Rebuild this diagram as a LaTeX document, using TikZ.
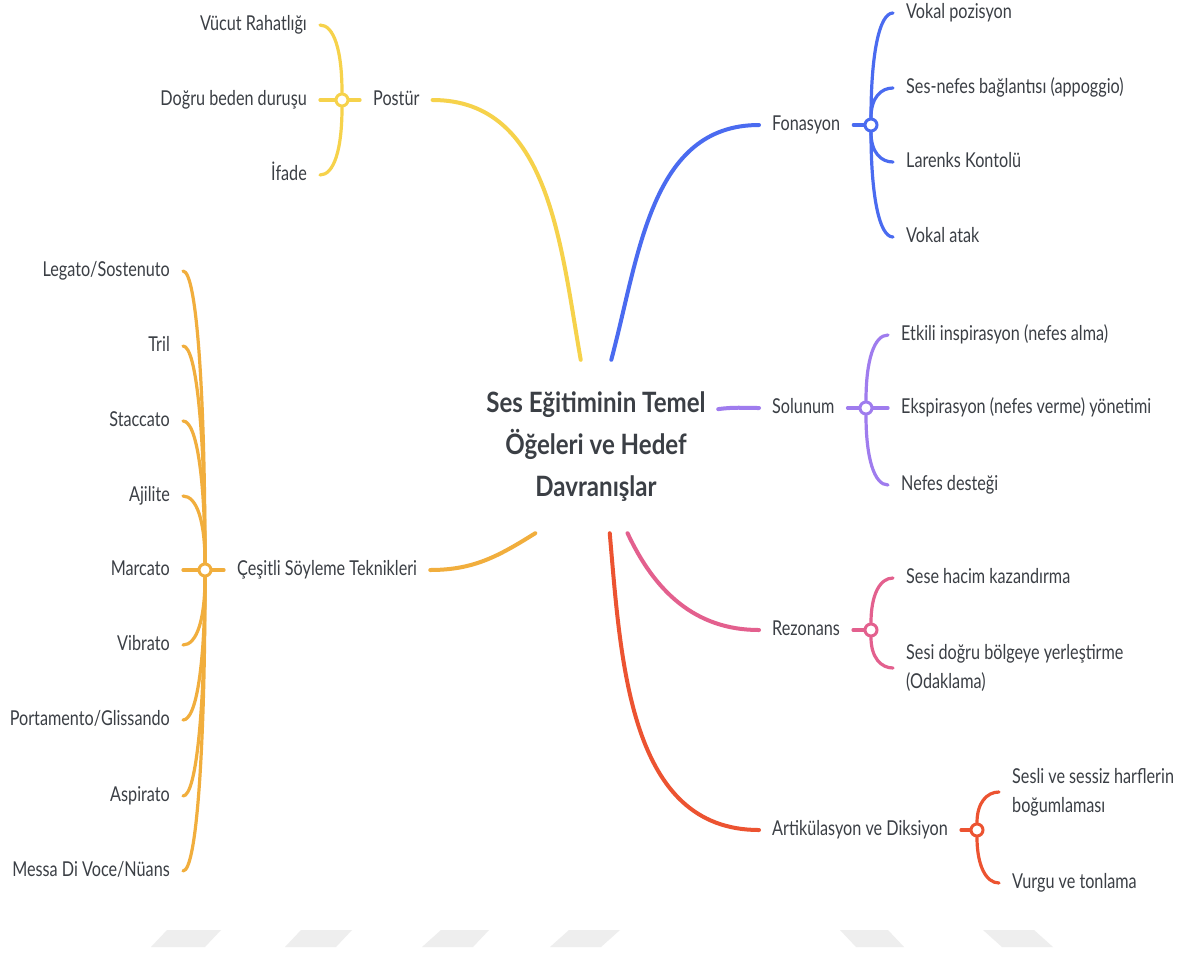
\documentclass[tikz,border=0pt]{standalone}
\usepackage{fontspec}
\setmainfont{Lato}[FakeStretch=0.79]
\newfontfamily\corefamily{Lato}[FakeStretch=0.86]

\definecolor{inkgray}{HTML}{3B3F45}
\definecolor{postyellow}{HTML}{F6D24B}
\definecolor{tekorange}{HTML}{F1AE3D}
\definecolor{fonblue}{HTML}{4A6BF0}
\definecolor{solpurple}{HTML}{9F7CEE}
\definecolor{rezpink}{HTML}{E3608E}
\definecolor{artred}{HTML}{EC5331}
\definecolor{wmarkgray}{HTML}{EEEEEE}

\newcommand\corefont{\corefamily\fontsize{28}{42}\selectfont\bfseries}
\newcommand\labelfont{\fontsize{20.5}{29}\selectfont}

\tikzset{
    base/.style={font=\labelfont, text=inkgray, inner xsep=13pt, inner ysep=0pt},
    topic/.style={base, text height=14.5pt, text depth=4pt},
    note/.style={base, align=left},
    core/.style={font=\corefont, text=inkgray, align=center, inner sep=0pt,
        minimum width=244pt, minimum height=173pt},
    hub/.style={circle, draw=#1, fill=white, line width=3pt, minimum size=12pt, inner sep=0pt},
    branch/.style={draw=#1, line width=4pt, line cap=round},
    twig/.style={draw=#1, line width=3.2pt, line cap=round},
}

\begin{document}
\begin{tikzpicture}[x=1pt, y=1pt]
    \fill[white] (0,0) rectangle (1188,-956);
    \useasboundingbox (0,0) rectangle (1188,-956);

    % faint marks along the bottom
    \foreach \a/\b/\c/\d in {167/221/151/205, 301/352/285/336, 441/489/422/473,
                             569/620/550/601, 840/888/856/904, 983/1034/1002/1053}
        \fill[wmarkgray] (\a,-930) -- (\b,-930) -- (\d,-947) -- (\c,-947) -- cycle;

    \node[core] (core) at (596,-446.5) {Ses Eğitiminin Temel\\Öğeleri ve Hedef\\Davranışlar};

    % first level
    \node[topic, anchor=west] (postur) at (360,-100) {Postür};
    \node[topic, anchor=west] (cesitli) at (224,-570) {Çeşitli Söyleme Teknikleri};
    \node[topic, anchor=west] (fonasyon) at (759,-125) {Fonasyon};
    \node[topic, anchor=west] (solunum) at (759,-408) {Solunum};
    \node[topic, anchor=west] (rezonans) at (759,-630) {Rezonans};
    \node[topic, anchor=west] (artik) at (759,-830) {Artikülasyon ve Diksiyon};

    \node[hub=postyellow] (jP) at (342,-100) {};
    \node[hub=tekorange] (jC) at (205,-570) {};
    \node[hub=fonblue] (jF) at (871,-125) {};
    \node[hub=solpurple] (jS) at (866,-408) {};
    \node[hub=rezpink] (jR) at (871,-630) {};
    \node[hub=artred] (jA) at (977,-830) {};

    \draw[branch=postyellow] (core.100) to[out=100, in=0] (postur);
    \draw[branch=fonblue] (core.80) to[out=75, in=180] (fonasyon);
    \draw[branch=solpurple] (core.17) to[out=8, in=180] (solunum);
    \draw[branch=tekorange] (core.235) to[out=212, in=0] (cesitli);
    \draw[branch=rezpink] (core.290) to[out=-65, in=180] (rezonans);
    \draw[branch=artred] (core.279) to[out=-85, in=180] (artik);

    \draw[twig=postyellow] (jP) -- (postur);
    \draw[twig=tekorange] (jC) -- (cesitli);
    \draw[twig=fonblue] (jF) -- (fonasyon);
    \draw[twig=solpurple] (jS) -- (solunum);
    \draw[twig=rezpink] (jR) -- (rezonans);
    \draw[twig=artred] (jA) -- (artik);

    % Postür
    \node[topic, anchor=east] (vucut) at (320,-25) {Vücut Rahatlığı};
    \node[topic, anchor=east] (duruş) at (320,-100) {Doğru beden duruşu};
    \node[topic, anchor=east] (ifade) at (320,-175) {İfade};
    \draw[twig=postyellow] (jP) to[out=90, in=0, out distance=42pt, in distance=14pt] (vucut);
    \draw[twig=postyellow] (jP) -- (duruş);
    \draw[twig=postyellow] (jP) to[out=-90, in=0, out distance=42pt, in distance=14pt] (ifade);

    % Çeşitli Söyleme Teknikleri
    \foreach \i/\y/\txt in {1/271/{Legato/Sostenuto}, 2/346/Tril, 3/421/Staccato, 4/496/Ajilite,
                            5/570/Marcato, 6/645/Vibrato, 7/720/{Portamento/Glissando},
                            8/796/Aspirato, 9/871/{Messa Di Voce/Nüans}}
        \node[topic, anchor=east] (tek\i) at (183,-\y) {\txt};
    \foreach \i/\y in {1/271, 2/346, 3/421, 4/496, 6/645, 7/720, 8/796, 9/871} {
        \pgfmathsetmacro\dd{0.55*abs(570-\y)}
        \pgfmathsetmacro\ang{\y<570 ? 90 : -90}
        \draw[twig=tekorange] (jC) to[out=\ang, in=0, out distance=\dd pt, in distance=14pt] (tek\i);
    }
    \draw[twig=tekorange] (jC) -- (tek5);

    % Fonasyon
    \node[topic, anchor=west] (pozisyon) at (893,-13) {Vokal pozisyon};
    \node[topic, anchor=west] (appoggio) at (893,-88) {Ses-nefes bağlantısı (appoggio)};
    \node[topic, anchor=west] (larenks) at (893,-162) {Larenks Kontolü};
    \node[topic, anchor=west] (atak) at (893,-237) {Vokal atak};
    \draw[twig=fonblue] (jF) to[out=90, in=180, out distance=62pt, in distance=14pt] (pozisyon);
    \draw[twig=fonblue] (jF) to[out=90, in=180, out distance=20pt, in distance=12pt] (appoggio);
    \draw[twig=fonblue] (jF) to[out=-90, in=180, out distance=20pt, in distance=12pt] (larenks);
    \draw[twig=fonblue] (jF) to[out=-90, in=180, out distance=62pt, in distance=14pt] (atak);

    % Solunum
    \node[topic, anchor=west] (inspir) at (888,-335) {Etkili inspirasyon (nefes alma)};
    \node[topic, anchor=west] (ekspir) at (888,-408) {Ekspirasyon (nefes verme) yönetimi};
    \node[topic, anchor=west] (destek) at (888,-485) {Nefes desteği};
    \draw[twig=solpurple] (jS) to[out=90, in=180, out distance=40pt, in distance=14pt] (inspir);
    \draw[twig=solpurple] (jS) -- (ekspir);
    \draw[twig=solpurple] (jS) to[out=-90, in=180, out distance=42pt, in distance=14pt] (destek);

    % Rezonans
    \node[topic, anchor=west] (hacim) at (893,-578) {Sese hacim kazandırma};
    \node[note, anchor=west] (odak) at (893,-668) {Sesi doğru bölgeye yerleştirme\\(Odaklama)};
    \draw[twig=rezpink] (jR) to[out=90, in=180, out distance=28pt, in distance=13pt] (hacim);
    \draw[twig=rezpink] (jR) to[out=-90, in=180, out distance=20pt, in distance=12pt] (odak);

    % Artikülasyon ve Diksiyon
    \node[note, anchor=west] (harf) at (999,-792) {Sesli ve sessiz harflerin\\boğumlaması};
    \node[topic, anchor=west] (vurgu) at (999,-883) {Vurgu ve tonlama};
    \draw[twig=artred] (jA) to[out=90, in=180, out distance=20pt, in distance=12pt] (harf);
    \draw[twig=artred] (jA) to[out=-90, in=180, out distance=28pt, in distance=13pt] (vurgu);

\end{tikzpicture}
\end{document}
